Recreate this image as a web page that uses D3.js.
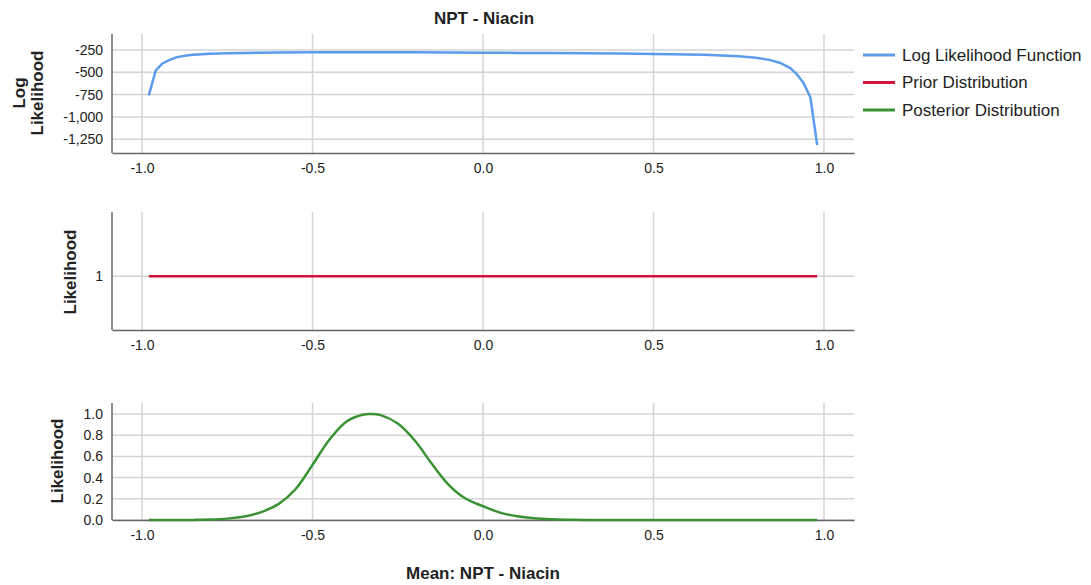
<!DOCTYPE html>
<html>
<head>
<meta charset="utf-8">
<script src="https://cdn.jsdelivr.net/npm/d3@7"></script>
<style>
  body { margin: 0; background: #fff; }
  text { font-family: "Liberation Sans", Arial, sans-serif; fill: #222; }
</style>
</head>
<body>
<div id="chart"></div>
<script>
// x ticks shared by all three panels
const xTicks = [-1.0, -0.5, 0.0, 0.5, 1.0];

// Log likelihood function (top panel)
const llX = [-0.98, -0.96, -0.94, -0.92, -0.90, -0.87, -0.85, -0.80, -0.75, -0.70, -0.65, -0.60, -0.50, -0.40, -0.30,
             -0.20, -0.10, 0.0, 0.10, 0.20, 0.30, 0.40, 0.50, 0.60, 0.65, 0.70, 0.75, 0.80, 0.84, 0.87, 0.90, 0.92, 0.94, 0.96, 0.98];
const llY = [-758, -480, -400, -362, -332, -312, -302, -292, -287, -283, -280, -278, -276, -275, -275,
             -276, -278, -280, -282, -284, -287, -290, -294, -300, -304, -310, -320, -336, -360, -392, -450, -520, -620, -780, -1315];
const llTicks = [-250, -500, -750, -1000, -1250];

// Prior distribution (middle panel)
const priorX = [-0.98, -0.5, 0.0, 0.5, 0.98];
const priorY = [1, 1, 1, 1, 1];
const priorTicks = [1];

// Posterior distribution (bottom panel)
const postX = [-0.98, -0.90, -0.85, -0.80, -0.75, -0.70, -0.65, -0.60, -0.55, -0.50, -0.45, -0.40, -0.35, -0.33,
               -0.30, -0.25, -0.20, -0.15, -0.10, -0.05, 0.0, 0.05, 0.10, 0.15, 0.20, 0.25, 0.30, 0.40, 0.60, 0.80, 0.98];
const postY = [0, 0, 0.001, 0.004, 0.013, 0.033, 0.075, 0.15, 0.29, 0.52, 0.76, 0.93, 0.995, 1.0,
               0.99, 0.91, 0.75, 0.53, 0.33, 0.20, 0.13, 0.07, 0.035, 0.016, 0.007, 0.003, 0.001, 0, 0, 0, 0];
const postTicks = [0.0, 0.2, 0.4, 0.6, 0.8, 1.0];

const legendItems = ["Log Likelihood Function", "Prior Distribution", "Posterior Distribution"];
const colors = ["#5d9cec", "#d2143f", "#3a9234"];

const W = 1091, H = 585;
const left = 112, right = 854;

// SPSS prints plain hyphens, not the unicode minus d3 uses
const hy = f => d => f(d).replace("\u2212", "-");

const svg = d3.select("#chart").append("svg")
  .attr("width", W).attr("height", H);

const x = d3.scaleLinear().domain([-1.088, 1.088]).range([left, right]);

const panels = [
  { top: 34, bottom: 153, domain: [-1405, -70], ticks: llTicks, fmt: hy(d3.format(",")),
    xs: llX, ys: llY, color: colors[0], curve: d3.curveLinear },
  { top: 212, bottom: 330, domain: [0.5, 1.6], ticks: priorTicks, fmt: hy(d3.format("d")),
    xs: priorX, ys: priorY, color: colors[1], curve: d3.curveLinear },
  { top: 403, bottom: 520, domain: [0, 1.104], ticks: postTicks, fmt: hy(d3.format(".1f")),
    xs: postX, ys: postY, color: colors[2], curve: d3.curveCatmullRom.alpha(0.5) }
];

panels.forEach(p => {
  const y = d3.scaleLinear().domain(p.domain).range([p.bottom, p.top]);
  const g = svg.append("g");

  // gridlines
  g.selectAll(".hg").data(p.ticks).enter().append("line")
    .attr("x1", left).attr("x2", right)
    .attr("y1", d => y(d)).attr("y2", d => y(d))
    .attr("stroke", "#d4d4d4").attr("stroke-width", 1.5);
  g.selectAll(".vg").data(xTicks).enter().append("line")
    .attr("x1", d => x(d)).attr("x2", d => x(d))
    .attr("y1", p.top).attr("y2", p.bottom)
    .attr("stroke", "#d4d4d4").attr("stroke-width", 1.5);

  // axes
  const yAxis = g.append("g")
    .attr("transform", `translate(${left},0)`)
    .call(d3.axisLeft(y).tickValues(p.ticks).tickFormat(p.fmt).tickSize(0).tickPadding(9));
  yAxis.select(".domain").attr("d", `M0,${p.top}V${p.bottom}`).attr("stroke", "#666").attr("stroke-width", 1.5);
  yAxis.selectAll("text").style("font-size", "14px").attr("fill", "#222");

  const xAxis = g.append("g")
    .attr("transform", `translate(0,${p.bottom})`)
    .call(d3.axisBottom(x).tickValues(xTicks).tickFormat(hy(d3.format(".1f"))).tickSize(0).tickPadding(10));
  xAxis.select(".domain").attr("stroke", "#666").attr("stroke-width", 1.5);
  xAxis.selectAll("text").style("font-size", "14px").attr("fill", "#222");

  // series line
  const pts = p.xs.map((d, i) => [d, p.ys[i]]);
  g.append("path")
    .datum(pts)
    .attr("fill", "none")
    .attr("stroke", p.color)
    .attr("stroke-width", 2.5)
    .attr("d", d3.line().x(d => x(d[0])).y(d => y(d[1])).curve(p.curve));
});

// titles
svg.append("text")
  .attr("x", 484).attr("y", 24)
  .attr("text-anchor", "middle")
  .style("font-size", "17px").style("font-weight", "bold")
  .text("NPT - Niacin");

svg.append("text")
  .attr("x", 483).attr("y", 579)
  .attr("text-anchor", "middle")
  .style("font-size", "17px").style("font-weight", "bold")
  .text("Mean: NPT - Niacin");

// y axis titles
function yTitle(txt, cx, cy) {
  svg.append("text")
    .attr("transform", `translate(${cx},${cy}) rotate(-90)`)
    .attr("text-anchor", "middle")
    .attr("dominant-baseline", "central")
    .style("font-size", "17px").style("font-weight", "bold")
    .text(txt);
}
yTitle("Log", 19, 93);
yTitle("Likelihood", 37, 93);
yTitle("Likelihood", 70, 272);
yTitle("Likelihood", 57, 461);

// legend
const legend = svg.append("g").attr("transform", "translate(863,55)");
legendItems.forEach((name, i) => {
  const item = legend.append("g").attr("transform", `translate(0,${i * 27.5})`);
  item.append("line")
    .attr("x1", 0).attr("x2", 32)
    .attr("y1", 0).attr("y2", 0)
    .attr("stroke", colors[i]).attr("stroke-width", 3);
  item.append("text")
    .attr("x", 39).attr("y", 0)
    .attr("dominant-baseline", "central")
    .style("font-size", "17px")
    .text(name);
});
</script>
</body>
</html>
